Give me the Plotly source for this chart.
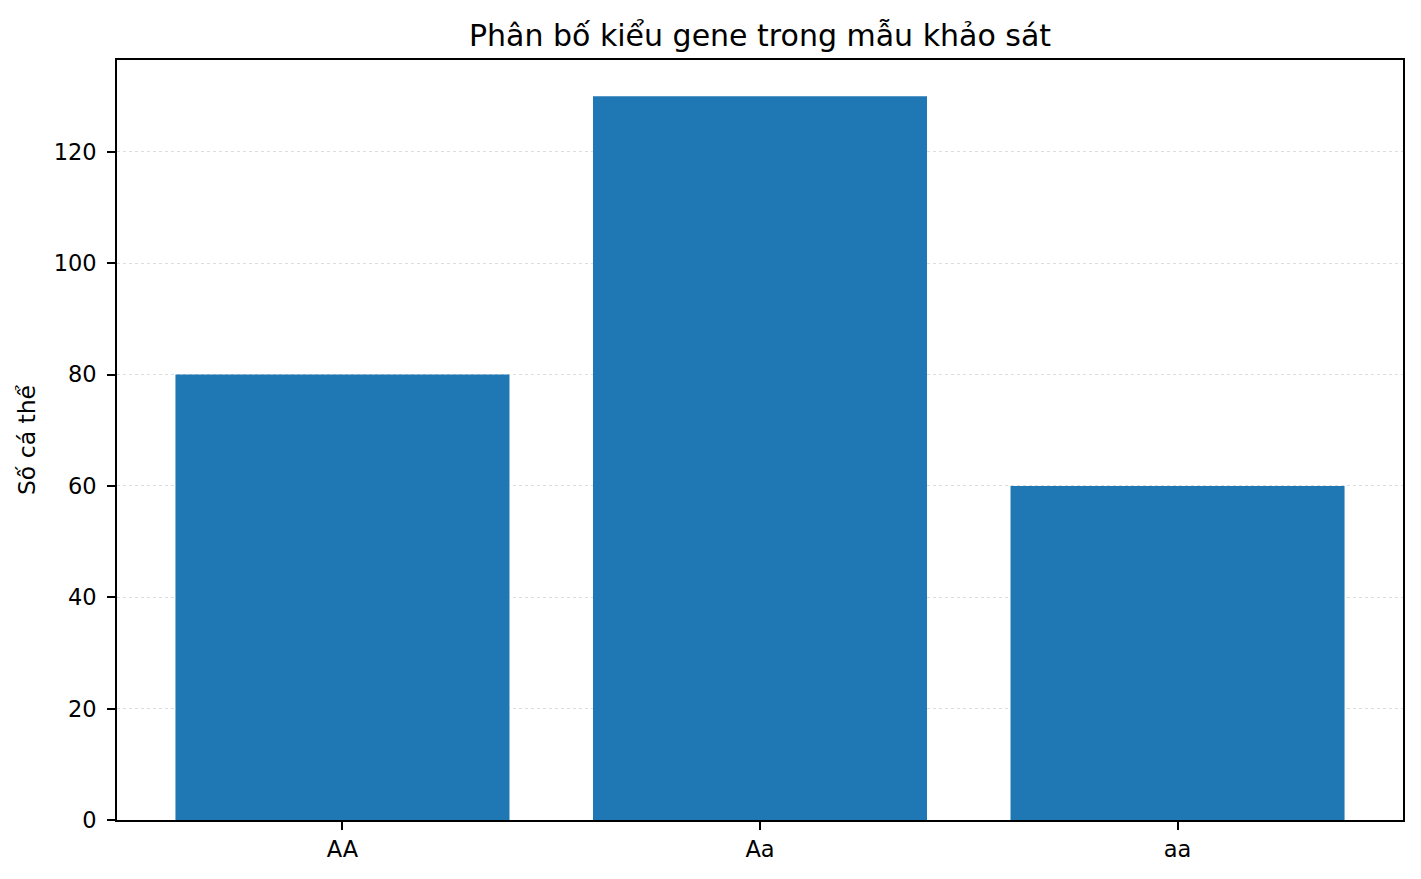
import plotly.graph_objects as go

# du lieu kieu gene
kieu_gene = ['AA', 'Aa', 'aa']
so_ca_the = [80, 130, 60]
y_ticks = [0, 20, 40, 60, 80, 100, 120]

FONT = 'DejaVu Sans'

fig = go.Figure()
fig.add_trace(go.Bar(x=kieu_gene, y=so_ca_the, marker=dict(color='#1f77b4', line=dict(width=0)),
                     width=0.8, showlegend=False))

# trang co le 8px nen tru bot kich thuoc
fig.update_layout(
    width=1413, height=871,
    margin=dict(l=109, r=18, t=52, b=59),
    paper_bgcolor='white', plot_bgcolor='white',
    font=dict(family=FONT, size=22.5, color='black'),
    title=dict(text='Phân bố kiểu gene trong mẫu khảo sát', x=0.5, xref='paper', xanchor='center',
               y=1 - 27 / 871, yanchor='middle', font=dict(size=30, family=FONT)),
)
fig.update_xaxes(
    range=[-0.54, 2.54], showline=True, linecolor='black', linewidth=1.6, mirror=True,
    ticks='outside', ticklen=8, tickwidth=1.6, tickcolor='black', showgrid=False,
    ticklabelstandoff=0,
)
fig.update_yaxes(
    range=[0, 136.5], tickvals=y_ticks, showline=True, linecolor='black', linewidth=1.6, mirror=True,
    ticks='outside', ticklen=8, tickwidth=1.6, tickcolor='black',
    showgrid=True, gridcolor='#dddddd', griddash='dot', gridwidth=1, zeroline=False,
    ticklabelstandoff=6,
    title=dict(text='Số cá thể', font=dict(size=23.5), standoff=12),
)

fig.write_html('out.html')
